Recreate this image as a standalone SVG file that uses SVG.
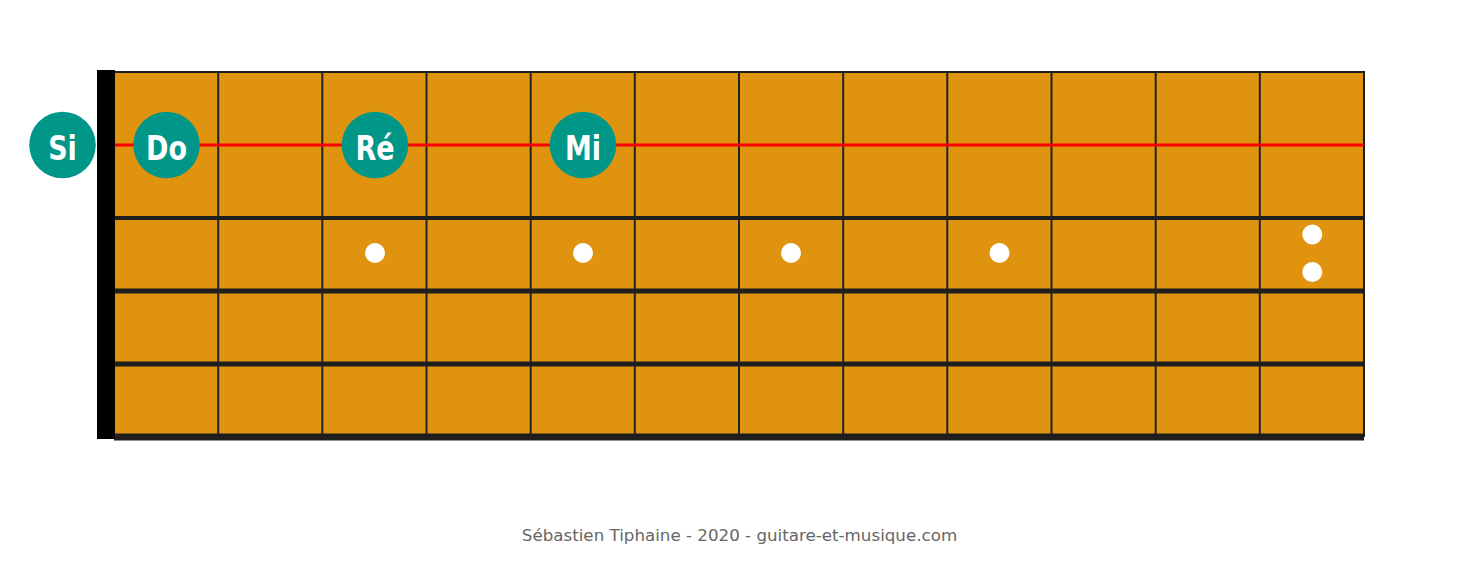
<svg xmlns="http://www.w3.org/2000/svg" width="1479" height="562" viewBox="0 0 1479 562">
<style>
.board{fill:#E0930F;stroke:#1e1e1e;stroke-width:2}
.fret{stroke:#222;stroke-width:2}
.str{stroke:#1e1e1e}
.dot{fill:#fff}
.note circle{fill:#009688}
.note text{font-family:"DejaVu Sans Condensed","DejaVu Sans",sans-serif;font-stretch:condensed;font-weight:bold;font-size:30px;fill:#fff;text-anchor:middle}
.credit{font-family:"DejaVu Sans",sans-serif;font-size:16.7px;fill:#666;text-anchor:middle}
</style>
<rect width="1479" height="562" fill="#fff"/>
<g id="fretboard">
<rect class="board" x="114" y="72" width="1250" height="364"/>
<g id="frets">
<line class="fret" x1="218.2" y1="72" x2="218.2" y2="436"/>
<line class="fret" x1="322.3" y1="72" x2="322.3" y2="436"/>
<line class="fret" x1="426.5" y1="72" x2="426.5" y2="436"/>
<line class="fret" x1="530.7" y1="72" x2="530.7" y2="436"/>
<line class="fret" x1="634.8" y1="72" x2="634.8" y2="436"/>
<line class="fret" x1="739" y1="72" x2="739" y2="436"/>
<line class="fret" x1="843.2" y1="72" x2="843.2" y2="436"/>
<line class="fret" x1="947.3" y1="72" x2="947.3" y2="436"/>
<line class="fret" x1="1051.5" y1="72" x2="1051.5" y2="436"/>
<line class="fret" x1="1155.7" y1="72" x2="1155.7" y2="436"/>
<line class="fret" x1="1259.8" y1="72" x2="1259.8" y2="436"/>
</g>
<g id="strings">
<line class="str" x1="114" y1="218" x2="1364" y2="218" stroke-width="4"/>
<line class="str" x1="114" y1="291" x2="1364" y2="291" stroke-width="5"/>
<line class="str" x1="114" y1="364" x2="1364" y2="364" stroke-width="5"/>
<line class="str" x1="114" y1="437" x2="1364" y2="437" stroke-width="7"/>
<line x1="114" y1="145" x2="1364" y2="145" stroke="#ff0000" stroke-width="3"/>
</g>
<rect id="nut" x="97" y="70" width="18" height="369" fill="#000"/>
<g id="inlays">
<circle class="dot" cx="375" cy="253" r="10"/>
<circle class="dot" cx="583" cy="253" r="10"/>
<circle class="dot" cx="791" cy="253" r="10"/>
<circle class="dot" cx="999.5" cy="253" r="10"/>
<circle class="dot" cx="1312.3" cy="234.5" r="10"/>
<circle class="dot" cx="1312.3" cy="272" r="10"/>
</g>
</g>
<g id="note-si" class="note"><circle cx="62.5" cy="145" r="33.3"/><text transform="translate(62.5,159.5) scale(1,1.1)">Si</text></g>
<g id="note-do" class="note"><circle cx="166.5" cy="145" r="33.3"/><text transform="translate(166.5,159.5) scale(1,1.1)">Do</text></g>
<g id="note-re" class="note"><circle cx="375" cy="145" r="33.3"/><text transform="translate(375,159.5) scale(1,1.1)">Ré</text></g>
<g id="note-mi" class="note"><circle cx="583" cy="145" r="33.3"/><text transform="translate(583,159.5) scale(1,1.1)">Mi</text></g>
<text class="credit" x="739.5" y="541">Sébastien Tiphaine - 2020 - guitare-et-musique.com</text>
</svg>
